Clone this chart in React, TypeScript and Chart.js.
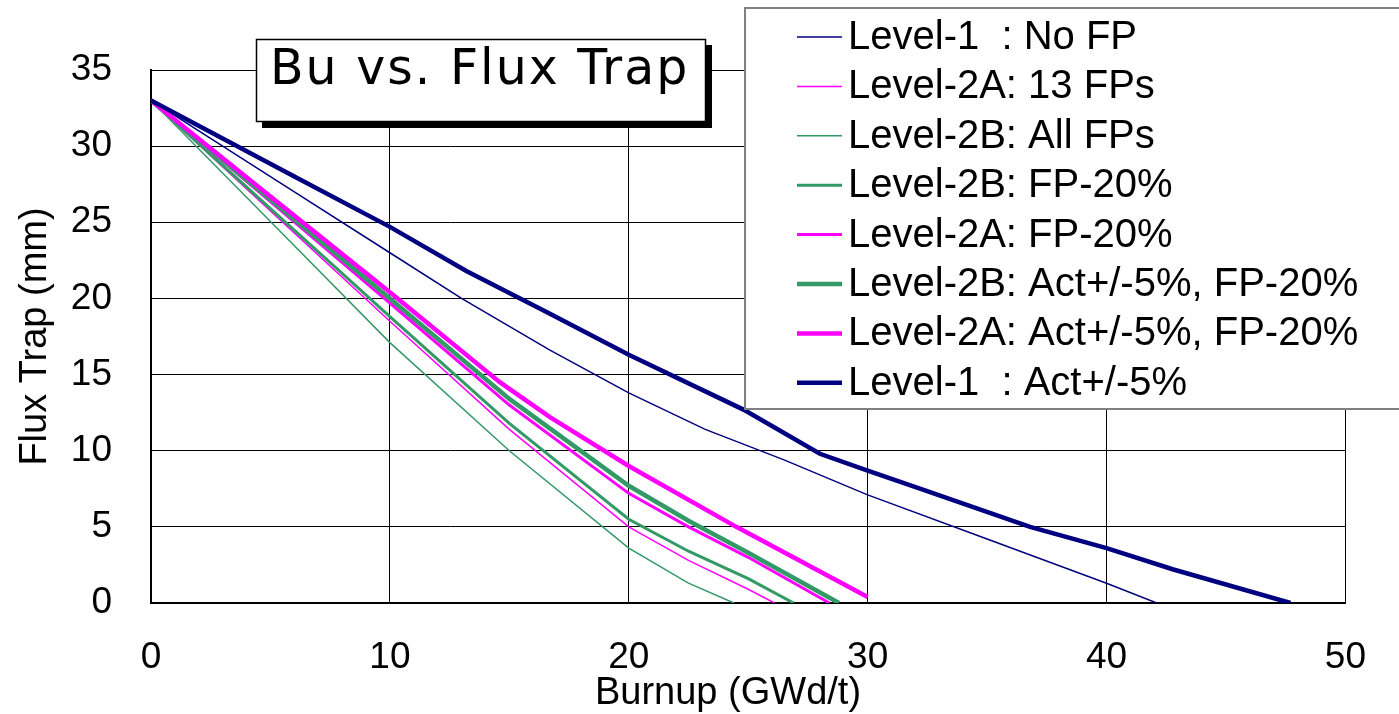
import React, { useEffect, useRef } from "react";
import { Chart, registerables } from "chart.js";

Chart.register(...registerables);

const FONT = '"Liberation Sans", Arial, sans-serif';

const chartTitle = "Bu vs. Flux Trap";
const xTitle = "Burnup (GWd/t)";
const yTitle = "Flux Trap (mm)";

const xTickValues = [0, 10, 20, 30, 40, 50];
const yTickValues = [0, 5, 10, 15, 20, 25, 30, 35];

const seriesLabels = [
  "Level-1  : No FP",
  "Level-2A: 13 FPs",
  "Level-2B: All FPs",
  "Level-2B: FP-20%",
  "Level-2A: FP-20%",
  "Level-2B: Act+/-5%, FP-20%",
  "Level-2A: Act+/-5%, FP-20%",
  "Level-1  : Act+/-5%",
];

const l1NoFpX = [0, 3, 6, 10, 13, 16.7, 20, 23.2, 26.5, 30, 35, 40, 42.1];
const l1NoFpY = [33, 30.0, 27.0, 23.0, 20.0, 16.6, 13.8, 11.4, 9.4, 7.1, 4.2, 1.3, 0];

const l2a13X = [0, 5, 10, 15, 20, 22.5, 25, 26.1];
const l2a13Y = [33, 25.75, 18.5, 11.4, 5.0, 2.8, 0.9, 0];

const l2bAllX = [0, 5, 10, 15, 20, 22.5, 24.4];
const l2bAllY = [33, 25.05, 17.1, 10.0, 3.6, 1.3, 0];

const l2bFpX = [0, 5, 10, 15, 20, 22.5, 25, 26.9];
const l2bFpY = [33, 25.9, 18.8, 11.8, 5.5, 3.4, 1.6, 0];

const l2aFpX = [0, 5, 10, 15, 20, 22.5, 25, 28.4];
const l2aFpY = [33, 26.35, 19.7, 13.0, 7.2, 5.0, 3.0, 0];

const l2bActX = [0, 5, 10, 15, 20, 22.5, 25, 28.8];
const l2bActY = [33, 26.5, 20.0, 13.4, 7.7, 5.4, 3.3, 0];

const l2aActX = [0, 5, 10, 14.6, 16.7, 20, 24.5, 30];
const l2aActY = [33, 26.7, 20.4, 14.5, 12.2, 9.0, 5.0, 0.4];

const l1ActX = [0, 3, 6, 10, 13.2, 16.7, 20, 24.8, 28, 30, 32.4, 36.8, 40, 42.8, 47.7];
const l1ActY = [33, 30.5, 28.0, 24.7, 21.8, 19.0, 16.3, 12.7, 9.8, 8.7, 7.4, 5.0, 3.6, 2.2, 0];

const NAVY = "#000080";
const MAGENTA = "#ff00ff";
const GREEN = "#339966";

const seriesX = [l1NoFpX, l2a13X, l2bAllX, l2bFpX, l2aFpX, l2bActX, l2aActX, l1ActX];
const seriesY = [l1NoFpY, l2a13Y, l2bAllY, l2bFpY, l2aFpY, l2bActY, l2aActY, l1ActY];
const seriesColors = [NAVY, MAGENTA, GREEN, GREEN, MAGENTA, GREEN, MAGENTA, NAVY];
const seriesWidths = [1.5, 1.5, 1.5, 3, 3, 4.5, 4.5, 4.5];

const overlayPlugin = {
  id: "overlay",
  afterDraw(chart: any) {
    const ctx = chart.ctx as CanvasRenderingContext2D;
    ctx.save();

    // x axis title
    ctx.fillStyle = "#000";
    ctx.font = `38px ${FONT}`;
    ctx.textAlign = "center";
    ctx.textBaseline = "middle";
    ctx.fillText(xTitle, 728, 694);

    // title box with shadow
    ctx.fillStyle = "#000";
    ctx.fillRect(262, 45, 450, 83);
    ctx.fillStyle = "#fff";
    ctx.fillRect(256, 39, 450, 83);
    ctx.strokeStyle = "#000";
    ctx.lineWidth = 1.5;
    ctx.strokeRect(256.5, 39.5, 449, 82);
    ctx.font = `49px "DejaVu Sans", sans-serif`;
    (ctx as any).letterSpacing = "2px";
    ctx.textAlign = "left";
    ctx.textBaseline = "alphabetic";
    ctx.fillStyle = "#000";
    ctx.fillText(chartTitle, 270, 84);
    (ctx as any).letterSpacing = "0px";

    // legend box
    ctx.fillStyle = "#fff";
    ctx.fillRect(745, 8, 700, 401);
    ctx.strokeStyle = "#808080";
    ctx.lineWidth = 2;
    ctx.strokeRect(745, 8, 700, 401);
    ctx.font = `40px ${FONT}`;
    ctx.textAlign = "left";
    ctx.textBaseline = "alphabetic";
    chart.data.datasets.forEach((ds: any, i: number) => {
      const y = 37 + 49.4 * i;
      ctx.strokeStyle = ds.borderColor;
      ctx.lineWidth = ds.borderWidth;
      ctx.beginPath();
      ctx.moveTo(797, y);
      ctx.lineTo(842, y);
      ctx.stroke();
      ctx.fillStyle = "#000";
      ctx.fillText(ds.label, 848, y + 12);
    });

    ctx.restore();
  },
};

export default function App() {
  const canvasRef = useRef<HTMLCanvasElement | null>(null);

  useEffect(() => {
    if (!canvasRef.current) return;
    const datasets = seriesLabels.map((label, i) => ({
      label,
      data: seriesX[i].map((x, j) => ({ x, y: seriesY[i][j] })),
      borderColor: seriesColors[i],
      backgroundColor: seriesColors[i],
      borderWidth: seriesWidths[i],
      pointRadius: 0,
      tension: 0,
      fill: false,
      order: seriesLabels.length - i,
    }));

    const chart = new Chart(canvasRef.current, {
      type: "line",
      data: { datasets },
      options: {
        responsive: false,
        animation: false,
        events: [],
        layout: { padding: { top: 70, right: 52, bottom: 0, left: 0 } },
        plugins: {
          legend: { display: false },
          tooltip: { enabled: false },
          title: { display: false },
        },
        scales: {
          x: {
            type: "linear",
            min: 0,
            max: 50,
            afterBuildTicks: (scale: any) => {
              scale.ticks = xTickValues.map((v) => ({ value: v }));
            },
            afterFit: (scale: any) => {
              scale.height = 111;
            },
            ticks: {
              color: "#000",
              font: { family: FONT, size: 37 },
              padding: 33,
              maxRotation: 0,
              autoSkip: false,
            },
            grid: { color: "#000", lineWidth: 1, drawTicks: false },
            border: { display: true, color: "#000", width: 2 },
            title: { display: false },
          },
          y: {
            type: "linear",
            min: 0,
            max: 35,
            afterBuildTicks: (scale: any) => {
              scale.ticks = yTickValues.map((v) => ({ value: v }));
            },
            afterFit: (scale: any) => {
              scale.width = 151;
            },
            ticks: {
              color: "#000",
              font: { family: FONT, size: 37 },
              padding: 39,
              autoSkip: false,
            },
            grid: { color: "#000", lineWidth: 1, drawTicks: false },
            border: { display: true, color: "#000", width: 2 },
            title: {
              display: true,
              text: yTitle,
              color: "#000",
              font: { family: FONT, size: 38 },
              padding: { top: 13, bottom: 0 },
            },
          },
        },
      },
      plugins: [overlayPlugin],
    } as any);

    return () => chart.destroy();
  }, []);

  return (
    <div style={{ position: "absolute", left: 0, top: 0, width: 1399, height: 714, background: "#fff" }}>
      <canvas ref={canvasRef} width={1399} height={714} style={{ display: "block" }} />
    </div>
  );
}
